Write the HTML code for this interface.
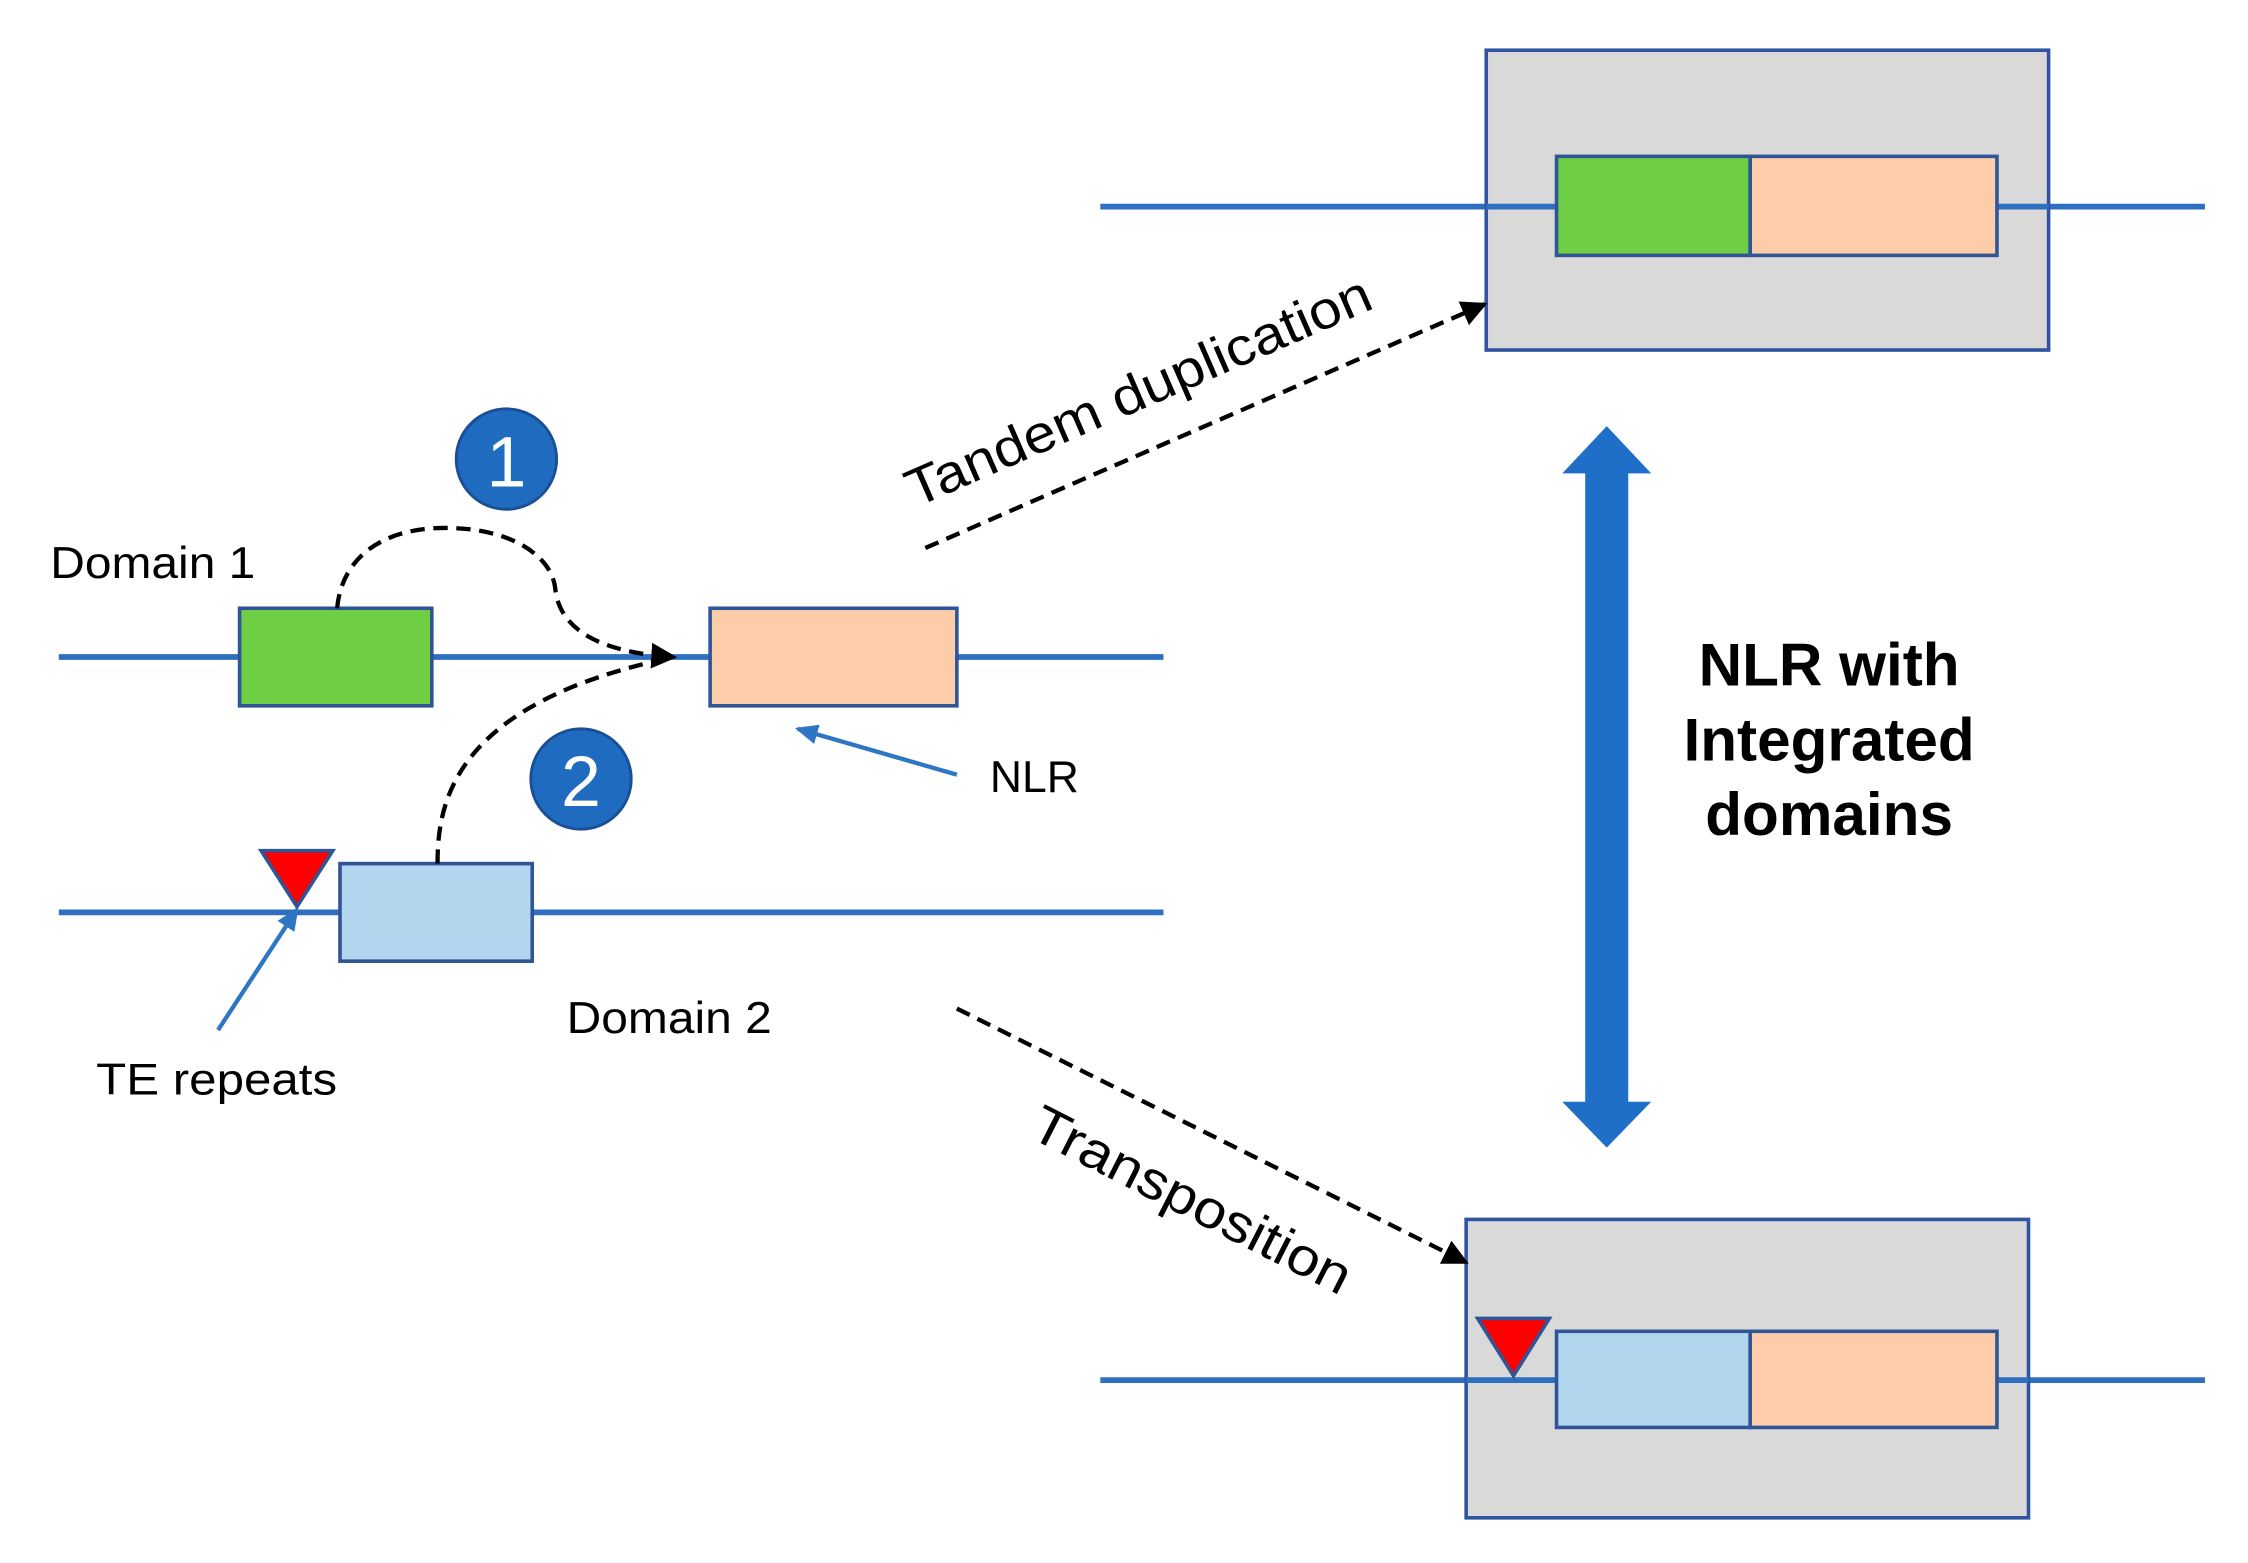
<!DOCTYPE html>
<html><head><meta charset="utf-8"><style>html,body{margin:0;padding:0;background:#fff}svg{display:block}</style></head>
<body>
<svg width="2248" height="1563" viewBox="0 0 1567 1089.5" preserveAspectRatio="none" xmlns="http://www.w3.org/2000/svg" font-family="'Liberation Sans', sans-serif">
<defs>
<marker id="ak2" markerWidth="18" markerHeight="18" refX="16" refY="9" orient="auto" markerUnits="userSpaceOnUse"><path d="M0,0 L18,9 L0,18 z" fill="#000"/></marker>
<marker id="ab" markerWidth="16" markerHeight="14" refX="14" refY="7" orient="auto" markerUnits="userSpaceOnUse"><path d="M0,0 L16,7 L0,14 z" fill="#2e75c4"/></marker>
</defs>
<g stroke="#2e6fbf" stroke-width="4">
<line x1="767" y1="144" x2="1537" y2="144"/>
<line x1="767" y1="962" x2="1537" y2="962"/>
<line x1="41" y1="458" x2="811" y2="458"/>
<line x1="41" y1="636" x2="811" y2="636"/>
</g>
<rect x="1036" y="35" width="392" height="209" fill="#d9d9d9" stroke="#2f55a0" stroke-width="2.5"/>
<rect x="1022" y="850" width="392" height="208" fill="#d9d9d9" stroke="#2f55a0" stroke-width="2.5"/>
<line x1="1022" y1="962" x2="1085" y2="962" stroke="#2e6fbf" stroke-width="4"/>
<line x1="1036" y1="144" x2="1085" y2="144" stroke="#2e6fbf" stroke-width="4"/>
<line x1="1392" y1="144" x2="1428" y2="144" stroke="#2e6fbf" stroke-width="4"/>
<line x1="1392" y1="962" x2="1414" y2="962" stroke="#2e6fbf" stroke-width="4"/>
<g stroke="#2f5597" stroke-width="2.5">
<rect x="1085" y="109" width="135" height="69" fill="#6ecf44"/>
<rect x="1220" y="109" width="172" height="69" fill="#fdcdaa"/>
<rect x="1085" y="928" width="135" height="67" fill="#b3d6ef"/>
<rect x="1220" y="928" width="172" height="67" fill="#fdcdaa"/>
<rect x="167" y="424" width="134" height="68" fill="#6ecf44"/>
<rect x="495" y="424" width="172" height="68" fill="#fdcdaa"/>
<rect x="237" y="602" width="134" height="68" fill="#b3d6ef"/>
<path d="M182,593 L232,593 L207,632 z" fill="#ff0000"/>
<path d="M1030,919 L1080,919 L1055,959 z" fill="#ff0000"/>
</g>
<circle cx="353" cy="320" r="35" fill="#1f6bbf" stroke="#1a4f96" stroke-width="2"/>
<circle cx="405" cy="543" r="35" fill="#1f6bbf" stroke="#1a4f96" stroke-width="2"/>
<text x="353" y="339" font-size="50" fill="#fff" text-anchor="middle">1</text>
<text x="405" y="562" font-size="50" fill="#fff" text-anchor="middle">2</text>
<g fill="none" stroke="#000" stroke-width="3" stroke-dasharray="10,6">
<path d="M235,424 C238,390 265,368 310,368 C360,368 385,390 387,410 C390,440 420,455 470,458" marker-end="url(#ak2)"/>
<path d="M305,602 C305,560 315,490 470,458"/>
<line x1="645" y1="382" x2="1035" y2="212" marker-end="url(#ak2)"/>
<line x1="667" y1="703" x2="1022" y2="880" marker-end="url(#ak2)"/>
</g>
<g stroke="#2e75c4" stroke-width="3">
<line x1="667" y1="540" x2="556" y2="508" marker-end="url(#ab)"/>
<line x1="152" y1="718" x2="207" y2="634" marker-end="url(#ab)"/>
</g>
<path d="M1120,297 L1151,330 L1135,330 L1135,768 L1151,768 L1120,800 L1089,768 L1105,768 L1105,330 L1089,330 z" fill="#1f6fc9"/>
<g font-size="31" fill="#000">
<text x="35" y="403" textLength="143" lengthAdjust="spacingAndGlyphs">Domain 1</text>
<text x="395" y="720" textLength="143" lengthAdjust="spacingAndGlyphs">Domain 2</text>
<text x="67" y="763" textLength="168" lengthAdjust="spacingAndGlyphs">TE repeats</text>
<text x="690" y="552">NLR</text>
<text x="0" y="0" font-size="37" textLength="350" lengthAdjust="spacingAndGlyphs" transform="translate(638,354) rotate(-23.5)">Tandem duplication</text>
<text x="0" y="0" font-size="37" textLength="245" lengthAdjust="spacingAndGlyphs" transform="translate(716,792) rotate(27)">Transposition</text>
</g>
<g font-size="42" font-weight="bold" text-anchor="middle" fill="#000">
<text x="1275" y="478">NLR with</text>
<text x="1275" y="530">Integrated</text>
<text x="1275" y="582">domains</text>
</g>
</svg>
</body></html>
